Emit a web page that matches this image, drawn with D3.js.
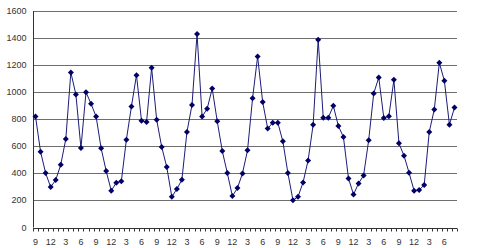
<!DOCTYPE html>
<html>
<head>
<meta charset="utf-8">
<script src="https://cdn.jsdelivr.net/npm/d3@7"></script>
<style>
  body { margin: 0; background: #fff; }
  svg { display: block; font-family: "Liberation Sans", Arial, sans-serif; }
</style>
</head>
<body>
<div id="chart"></div>
<script>
// month of each observation (Sep .. Aug, seven years)
const months = [
  9, 10, 11, 12, 1, 2, 3, 4, 5, 6, 7, 8,
  9, 10, 11, 12, 1, 2, 3, 4, 5, 6, 7, 8,
  9, 10, 11, 12, 1, 2, 3, 4, 5, 6, 7, 8,
  9, 10, 11, 12, 1, 2, 3, 4, 5, 6, 7, 8,
  9, 10, 11, 12, 1, 2, 3, 4, 5, 6, 7, 8,
  9, 10, 11, 12, 1, 2, 3, 4, 5, 6, 7, 8,
  9, 10, 11, 12, 1, 2, 3, 4, 5, 6, 7, 8
];
const values = [
  820, 560, 402, 299, 351, 464, 654, 1146, 983, 588, 1000, 914,
  820, 585, 417, 272, 331, 341, 649, 894, 1126, 788, 780, 1180,
  797, 595, 447, 227, 284, 353, 706, 906, 1430, 820, 877, 1027,
  785, 565, 402, 232, 291, 400, 570, 955, 1264, 928, 731, 775,
  775, 637, 402, 202, 227, 333, 496, 760, 1388, 812, 812, 899,
  750, 669, 363, 244, 326, 385, 644, 990, 1109, 810, 822, 1091,
  622, 531, 405, 272, 277, 314, 706, 872, 1217, 1084, 760, 886
];
const yTicks = [0, 200, 400, 600, 800, 1000, 1200, 1400, 1600];
const labelEvery = 3;

const width = 480, height = 248;
const margin = { top: 11, right: 23, bottom: 20.5, left: 33 };
const innerW = width - margin.left - margin.right;
const innerH = height - margin.top - margin.bottom;

const data = months.map((m, i) => ({ idx: i, month: m, value: values[i] }));

const svg = d3.select("#chart")
  .append("svg")
  .attr("width", width)
  .attr("height", height);

const g = svg.append("g")
  .attr("transform", `translate(${margin.left},${margin.top})`);

const x = d3.scaleBand()
  .domain(data.map(d => d.idx))
  .range([0, innerW])
  .padding(0);

const y = d3.scaleLinear()
  .domain([0, 1600])
  .range([innerH, 0]);

// gridlines
g.append("g")
  .selectAll("line")
  .data(yTicks.filter(t => t > 0))
  .enter()
  .append("line")
  .attr("x1", 0)
  .attr("x2", innerW)
  .attr("y1", d => Math.round(y(d)) + 0.5)
  .attr("y2", d => Math.round(y(d)) + 0.5)
  .attr("stroke", "#6e6e6e")
  .attr("stroke-width", 1);

// y axis, no tick marks
const yAxis = g.append("g")
  .attr("transform", "translate(0.5,0)")
  .call(d3.axisLeft(y).tickValues(yTicks).tickFormat(d3.format("d")).tickSize(0).tickPadding(7));
yAxis.select(".domain").attr("stroke", "#333").attr("d", `M0,${innerH}V${Math.round(y(1600))}`);
yAxis.selectAll(".tick").attr("transform", d => `translate(0,${Math.round(y(d)) + 0.5})`);
yAxis.selectAll("text")
  .attr("fill", "#333")
  .style("font-size", "9px");

// x axis: ticks at category boundaries, labels every 3 months
const xg = g.append("g")
  .attr("transform", `translate(0,${Math.round(innerH) + 0.5})`);
xg.append("line")
  .attr("x1", 0).attr("x2", innerW)
  .attr("stroke", "#333");
xg.selectAll(".tk")
  .data(d3.range(data.length + 1))
  .enter()
  .append("line")
  .attr("class", "tk")
  .attr("x1", i => Math.round(i < data.length ? x(i) : innerW) + 0.5)
  .attr("x2", i => Math.round(i < data.length ? x(i) : innerW) + 0.5)
  .attr("y1", 0).attr("y2", 3)
  .attr("stroke", "#333");
xg.selectAll(".lbl")
  .data(data.filter(d => d.idx % labelEvery === 0))
  .enter()
  .append("text")
  .attr("class", "lbl")
  .attr("x", d => x(d.idx) + x.bandwidth() / 2)
  .attr("y", 16.5)
  .attr("text-anchor", "middle")
  .attr("fill", "#333")
  .style("font-size", "9px")
  .text(d => d.month);

// series line
const line = d3.line()
  .x(d => x(d.idx) + x.bandwidth() / 2)
  .y(d => y(d.value));

g.append("path")
  .datum(data)
  .attr("fill", "none")
  .attr("stroke", "#1c1c78")
  .attr("stroke-width", 1)
  .attr("d", line);

// diamond markers
g.selectAll(".pt")
  .data(data)
  .enter()
  .append("path")
  .attr("class", "pt")
  .attr("transform", d => `translate(${x(d.idx) + x.bandwidth() / 2},${y(d.value)})`)
  .attr("d", "M0,-3L3,0L0,3L-3,0Z")
  .attr("fill", "#000066");
</script>
</body>
</html>
